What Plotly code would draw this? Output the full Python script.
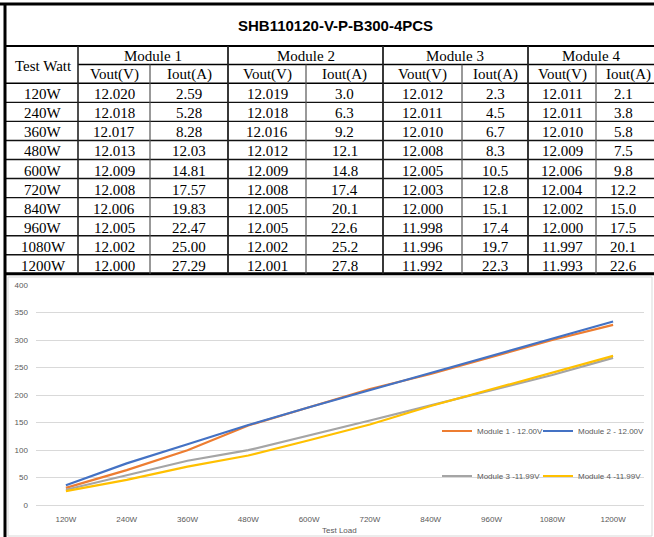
import plotly.graph_objects as go

# ---------------- data ----------------
title_text = "SHB110120-V-P-B300-4PCS"
test_watt = ["120W", "240W", "360W", "480W", "600W", "720W", "840W", "960W", "1080W", "1200W"]
modules = ["Module 1", "Module 2", "Module 3", "Module 4"]

m1_vout = [12.020, 12.018, 12.017, 12.013, 12.009, 12.008, 12.006, 12.005, 12.002, 12.000]
m1_iout = [2.59, 5.28, 8.28, 12.03, 14.81, 17.57, 19.83, 22.47, 25.00, 27.29]
m2_vout = [12.019, 12.018, 12.016, 12.012, 12.009, 12.008, 12.005, 12.005, 12.002, 12.001]
m2_iout = [3.0, 6.3, 9.2, 12.1, 14.8, 17.4, 20.1, 22.6, 25.2, 27.8]
m3_vout = [12.012, 12.011, 12.010, 12.008, 12.005, 12.003, 12.000, 11.998, 11.996, 11.992]
m3_iout = [2.3, 4.5, 6.7, 8.3, 10.5, 12.8, 15.1, 17.4, 19.7, 22.3]
m4_vout = [12.011, 12.011, 12.010, 12.009, 12.006, 12.004, 12.002, 12.000, 11.997, 11.993]
m4_iout = [2.1, 3.8, 5.8, 7.5, 9.8, 12.2, 15.0, 17.5, 20.1, 22.6]

series_names = ["Module 1 - 12.00V", "Module 2 - 12.00V", "Module 3 -11.99V", "Module 4 -11.99V"]
series_colors = ["#ED7D31", "#4472C4", "#A5A5A5", "#FFC000"]
x_title = "Test Load"

# ---------------- layout helpers ----------------
W, H = 654, 537
def px(x):
    return x / W
def py(y):
    return 1 - y / H

fig = go.Figure()

vouts = [m1_vout, m2_vout, m3_vout, m4_vout]
iouts = [m1_iout, m2_iout, m3_iout, m4_iout]
i_dec = [2, 1, 1, 1]

# chart traces (output power = Vout * Iout from the table)
legend_ids = ["legend", "legend2", "legend3", "legend4"]
for k in range(4):
    power = [v * i for v, i in zip(vouts[k], iouts[k])]
    fig.add_trace(go.Scatter(
        x=test_watt, y=power, mode="lines", name=series_names[k],
        line=dict(color=series_colors[k], width=2.2),
        legend=legend_ids[k], showlegend=True,
    ))

shapes = []
annots = []

# ---------------- table ----------------
col_edges = [6, 78, 150, 228, 306, 383, 462, 528, 596, 654]
title_top, title_bot = 4, 46
hdr1_bot = 64.5
hdr2_bot = 83.3
row_h = 19.05
tbl_bot = hdr2_bot + row_h * len(test_watt)

def hline(x0, x1, y, w=1.4, c="#111"):
    shapes.append(dict(type="line", xref="paper", yref="paper", x0=px(x0), x1=px(x1),
                       y0=py(y), y1=py(y), line=dict(color=c, width=w)))
def vline(x, y0, y1, w=1.2, c="#333"):
    shapes.append(dict(type="line", xref="paper", yref="paper", x0=px(x), x1=px(x),
                       y0=py(y0), y1=py(y1), line=dict(color=c, width=w)))

serif = "Liberation Serif, Times New Roman, serif"
def text(x, y, s, size=15, fam=serif, bold=False, color="#000"):
    annots.append(dict(xref="paper", yref="paper", x=px(x), y=py(y), text=("<b>%s</b>" % s) if bold else s,
                       showarrow=False, xanchor="center", yanchor="middle",
                       font=dict(family=fam, size=size, color=color)))

# outer / horizontal lines
hline(0, W, title_top, w=3, c="#000")
hline(6, W, title_bot, w=2, c="#000")
hline(col_edges[1], W, hdr1_bot, w=1.5, c="#000")
hline(6, W, hdr2_bot, w=1.5, c="#000")
for r in range(1, len(test_watt)):
    hline(6, W, hdr2_bot + r * row_h, w=1.4, c="#111")
hline(6, W, tbl_bot, w=3, c="#000")

# vertical lines
vline(5, title_top, H, w=3, c="#000")
vline(col_edges[1], title_bot, tbl_bot, w=1.6, c="#222")
for k in range(4):
    left = col_edges[1 + 2 * k]
    mid = col_edges[2 + 2 * k]
    if k > 0:
        vline(left, title_bot, tbl_bot, w=1.8, c="#222")
    vline(mid, hdr1_bot, tbl_bot, w=1.2, c="#555")

# texts
text(335, 25, title_text, size=15, fam="Liberation Sans, Arial, sans-serif", bold=True)
text((col_edges[0] + col_edges[1]) / 2 + 1, (title_bot + hdr2_bot) / 2 + 1, "Test Watt")
for k in range(4):
    a, b, c = col_edges[1 + 2 * k], col_edges[2 + 2 * k], col_edges[3 + 2 * k]
    text((a + c) / 2, (title_bot + hdr1_bot) / 2 + 1, modules[k])
    text((a + b) / 2, (hdr1_bot + hdr2_bot) / 2 + 1, "Vout(V)")
    text((b + c) / 2 + (3 if k == 3 else 0), (hdr1_bot + hdr2_bot) / 2 + 1, "Iout(A)")
for r, tw in enumerate(test_watt):
    yc = hdr2_bot + (r + 0.5) * row_h + 1.5
    text((col_edges[0] + col_edges[1]) / 2 + 1, yc, tw)
    for k in range(4):
        a, b, c = col_edges[1 + 2 * k], col_edges[2 + 2 * k], col_edges[3 + 2 * k]
        text((a + b) / 2, yc, "%.3f" % vouts[k][r])
        text((b + c) / 2 + (-2 if k == 3 else 0), yc, ("%." + str(i_dec[k]) + "f") % iouts[k][r])

# chart border
shapes.append(dict(type="rect", xref="paper", yref="paper", x0=px(8), x1=px(652), y0=py(536), y1=py(277),
                   line=dict(color="#d9d9d9", width=1), fillcolor="rgba(0,0,0,0)", layer="below"))

# axis title
text(340, 530, x_title, size=8, fam="Liberation Sans, Arial, sans-serif", color="#595959")

# ---------------- legends ----------------
leg_font = dict(family="Liberation Sans, Arial, sans-serif", size=8, color="#595959")
leg_pos = [(437, 431), (538, 431), (437, 476), (538, 476)]
legends = {}
for k in range(4):
    lx, ly = leg_pos[k]
    legends[legend_ids[k]] = dict(x=px(lx), y=py(ly), xref="paper", yref="paper",
                                   xanchor="left", yanchor="middle", orientation="h",
                                   bgcolor="rgba(0,0,0,0)", borderwidth=0, font=leg_font,
                                   itemwidth=30)

tick_font = dict(family="Liberation Sans, Arial, sans-serif", size=8, color="#595959")
fig.update_layout(
    width=W, height=H, autosize=False,
    margin=dict(l=0, r=0, t=0, b=0, pad=0),
    paper_bgcolor="white", plot_bgcolor="white",
    shapes=shapes, annotations=annots,
    xaxis=dict(domain=[px(35.5), px(643.5)], type="category", range=[-0.5, len(test_watt) - 0.5],
               showgrid=False, showline=False, zeroline=False, automargin=False,
               ticks="outside", ticklen=6, tickcolor="rgba(0,0,0,0)", tickfont=tick_font),
    yaxis=dict(domain=[py(505), py(285)], range=[0, 400], dtick=50, showgrid=True,
               gridcolor="#d9d9d9", gridwidth=1, zeroline=True, zerolinecolor="#d9d9d9",
               zerolinewidth=1, showline=False, automargin=False,
               ticks="outside", ticklen=5, tickcolor="rgba(0,0,0,0)", tickfont=tick_font),
    **legends,
)

fig.write_html("out.html", config={"displayModeBar": False},
               post_script="document.body.style.margin='0';document.body.style.overflow='hidden';")
